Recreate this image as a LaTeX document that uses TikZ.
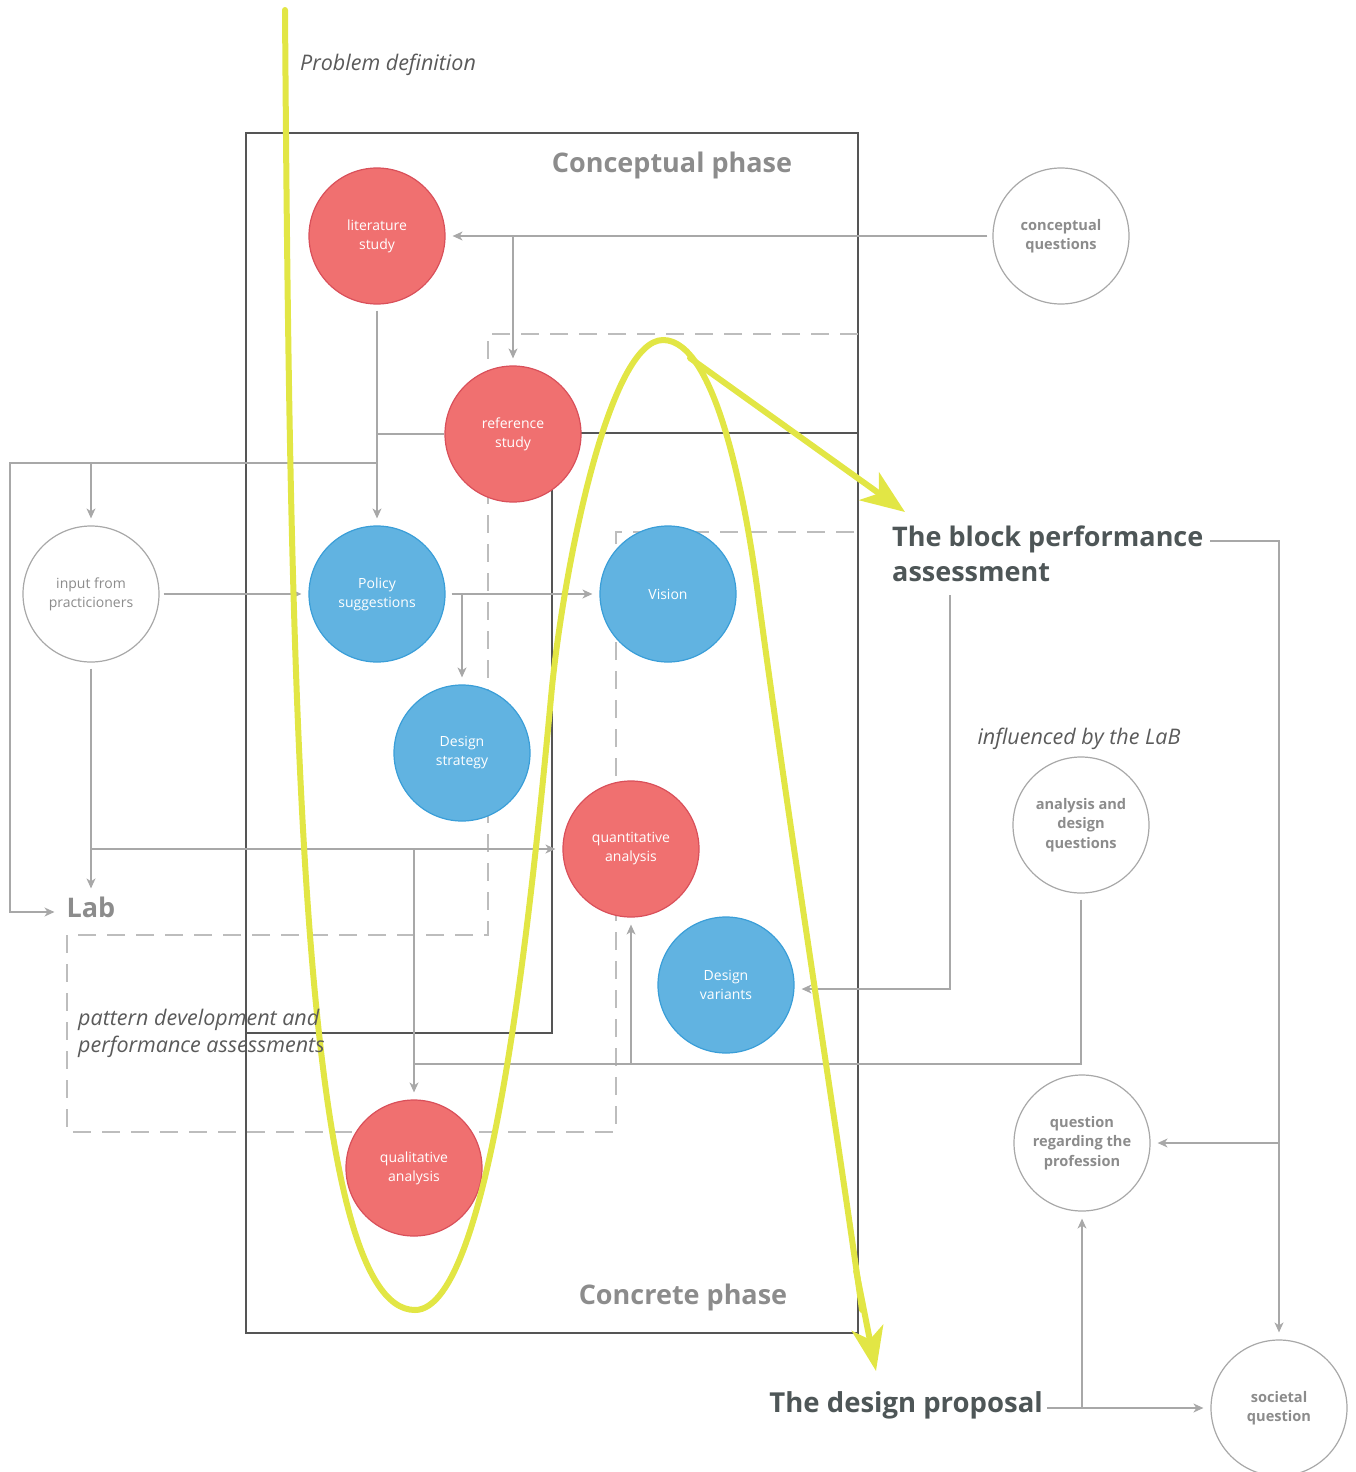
\documentclass[tikz,border=0pt]{standalone}
\usepackage{fontspec}
\setmainfont{Open Sans}
\usetikzlibrary{arrows.meta}
\definecolor{redfill}{HTML}{F07070}
\definecolor{redline}{HTML}{D9505A}
\definecolor{bluefill}{HTML}{61B3E1}
\definecolor{blueline}{HTML}{3A9ED8}
\definecolor{conn}{HTML}{A8A8A8}
\definecolor{dashc}{HTML}{BDBDBD}
\definecolor{boxline}{HTML}{555555}
\definecolor{ylw}{HTML}{E2E645}
\definecolor{txtgray}{HTML}{8C8C8C}
\definecolor{txtdark}{HTML}{4E5657}
\definecolor{txtmid}{HTML}{5A5A5A}
\begin{document}
\begin{tikzpicture}[x=1pt,y=-1pt,
  bub/.style={circle,minimum size=136pt,inner sep=0pt,align=center,line width=1.2pt,
    font=\fontsize{14}{19}\selectfont},
  redbub/.style={bub,fill=redfill,draw=redline,text=white},
  bluebub/.style={bub,fill=bluefill,draw=blueline,text=white},
  graybub/.style={bub,fill=white,draw=conn,text=txtgray,font=\fontsize{14.6}{19.5}\selectfont\bfseries},
  lightbub/.style={bub,fill=white,draw=conn,text=txtgray},
  line/.style={draw=conn,line width=1.3pt},
  arr/.style={line,-{Stealth[length=10pt,width=9pt,inset=3pt]},shorten >=7pt},
  box/.style={draw=boxline,line width=1.2pt},
  dashline/.style={draw=dashc,line width=1.3pt,dash pattern=on 18pt off 11pt},
  phase/.style={font=\fontsize{27}{30}\selectfont\bfseries,text=txtgray,inner sep=0pt},
  big/.style={font=\fontsize{27}{35}\selectfont\bfseries,text=txtdark,inner sep=0pt,align=left},
  note/.style={font=\fontsize{21.5}{27}\selectfont\itshape,text=txtmid,inner sep=0pt,align=left},
  yl/.style={draw=ylw,line width=6pt,line cap=round,line join=round}
]
\useasboundingbox (0,0) rectangle (1355,1472);

% phase boxes
\draw[box] (246,133) rectangle (858,1333);
\draw[box] (858,433) -- (552,433) -- (552,1033) -- (246,1033);

% dashed lab region
\draw[dashline] (858,334) -- (488,334) -- (488,935) -- (67,935) -- (67,1132) -- (616,1132) -- (616,532) -- (858,532);

% texts
\node[note,anchor=west] (pdef) at (300,65) {Problem definition};
\node[phase] (cph) at (672,165) {Conceptual phase};
\node[phase] (kph) at (683,1297) {Concrete phase};
\node[big,anchor=north west] (bpa) at (892,526) {The block performance\\assessment};
\node[note] (infl) at (1079,739) {influenced by the LaB};
\node[font=\fontsize{27}{30}\selectfont\bfseries,text=txtgray,inner sep=1pt] (lab) at (91,907) {Lab};
\node[big,anchor=east,font=\fontsize{27.5}{35}\selectfont\bfseries] (dp) at (1043,1405) {The design proposal};

% circles
\node[redbub] (lit) at (377,236) {literature\\study};
\node[redbub] (ref) at (513,434) {reference\\study};
\node[bluebub] (pol) at (377,594) {Policy\\suggestions};
\node[bluebub] (vis) at (668,594) {Vision};
\node[bluebub] (ds) at (462,753) {Design\\strategy};
\node[redbub] (quan) at (631,849) {quantitative\\analysis};
\node[bluebub] (dv) at (726,985) {Design\\variants};
\node[redbub] (qual) at (414,1168) {qualitative\\analysis};
\node[graybub] (cq) at (1061,236) {conceptual\\questions};
\node[lightbub] (inp) at (91,594) {input from\\practicioners};
\node[graybub] (adq) at (1081,825) {analysis and\\design\\questions};
\node[graybub] (qrp) at (1082,1143) {question\\regarding the\\profession};
\node[graybub] (soc) at (1279,1408) {societal\\question};

% helper coordinates
\coordinate (j1) at (377,463);
\coordinate (c1) at (10,463);
\coordinate (j2) at (415,1064);
\coordinate (bpaB) at (950,595);
\coordinate (bpaR) at (1210,541);

% connectors
\draw[arr,shorten <=5pt] (cq.west) -- (lit.east);
\draw[arr] (ref.north |- lit.east) -- (ref.north);
\draw[arr,shorten <=6pt] (lit.south) -- (pol.north);
\draw[line] (ref.west) -- (lit.south |- ref.west);
\draw[arr] (j1) -- (c1) |- ([xshift=-4pt,yshift=-5pt]lab.west);
\draw[arr] (inp.north |- j1) -- (inp.north);
\draw[arr,shorten <=4pt] (inp.east) -- (pol.west);
\draw[arr,shorten <=6pt] (pol.east) -- (vis.west);
\draw[arr] (ds.north |- pol.east) -- (ds.north);
\draw[arr,shorten <=6pt] (inp.south) -- (lab.north -| inp.south);
\draw[arr] (inp.south |- quan.west) -- (quan.west);
\draw[arr] (qual.north |- quan.west) -- (qual.north);
\draw[line,shorten <=6pt] (adq.south) -- (adq.south |- j2) -- (j2);
\draw[arr] (quan.south |- j2) -- (quan.south);
\draw[arr] (bpaB) |- ([yshift=-4pt]dv.east);
\draw[arr] (bpaR) -| (soc.north);
\draw[arr] (soc.north |- qrp.east) -- (qrp.east);
\draw[arr,shorten <=4pt] (dp.east |- soc.west) -- (soc.west);
\draw[arr] (qrp.south |- soc.west) -- (qrp.south);

% yellow path
\draw[yl] (285,10) .. controls (290,700) and (300,1310) .. (415,1310)
  .. controls (492,1310) and (532,900) .. (552,687)
  .. controls (565,560) and (610,340) .. (663,340)
  .. controls (716,340) and (745,500) .. (757,587)
  .. controls (788,820) and (840,1150) .. (862,1310);
\coordinate (ya) at (856,1270);
\coordinate (yb) at (876,1371);
\draw[draw=ylw,line width=6pt,-{Stealth[length=44pt,width=32pt,inset=12pt]}] (ya) -- (yb);
\coordinate (yc) at (690,358);
\coordinate (yd) at (905,512);
\draw[draw=ylw,line width=6pt,line cap=round,-{Stealth[length=44pt,width=34pt,inset=12pt]}] (yc) -- (yd);

% text over the yellow line
\node[note,anchor=north west] (pat) at (78,1009) {pattern development and\\performance assessments};
\end{tikzpicture}
\end{document}
